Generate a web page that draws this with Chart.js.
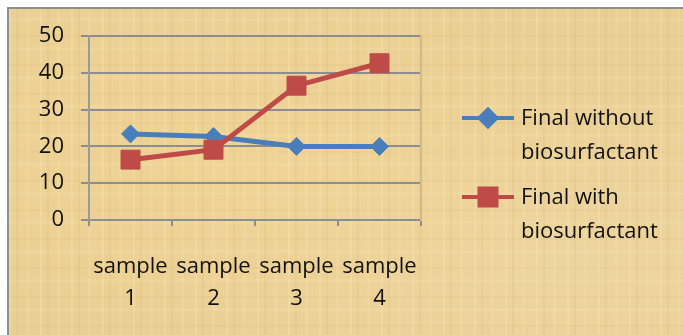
<!DOCTYPE html>
<html>
<head>
<meta charset="utf-8">
<script src="https://cdn.jsdelivr.net/npm/chart.js@4/dist/chart.umd.min.js"></script>
<style>
  html, body { margin: 0; padding: 0; background: #ffffff; }
  #wrap { position: relative; width: 683px; height: 335px; overflow: hidden; }
  #frame {
    position: absolute; left: 7px; top: 7px; width: 700px; height: 360px;
    border-top: 2px solid #8e8e8e; border-left: 2px solid #8e8e8e;
    background-color: #eacf94;
    background-image:
      repeating-linear-gradient(90deg, rgba(255,245,210,0.18) 0 2px, transparent 2px 7px, rgba(170,130,50,0.07) 7px 9px, transparent 9px 17px, rgba(255,240,200,0.12) 17px 20px, transparent 20px 31px),
      repeating-linear-gradient(0deg, rgba(255,245,215,0.10) 0 3px, transparent 3px 13px, rgba(165,125,45,0.05) 13px 15px, transparent 15px 29px),
      radial-gradient(ellipse at 30% 40%, rgba(245,215,150,0.5), transparent 60%),
      radial-gradient(ellipse at 80% 70%, rgba(240,220,170,0.45), transparent 55%);
  }
  canvas { position: absolute; left: 0; top: 0; }
</style>
</head>
<body>
<div id="wrap">
  <div id="frame"></div>
  <canvas id="c" width="683" height="335"></canvas>
</div>
<script>
// Categories and measured values for the two series
const categories = [["sample", "1"], ["sample", "2"], ["sample", "3"], ["sample", "4"]];
const finalWithout = [23.4, 22.7, 20.0, 20.0];
const finalWith = [16.4, 19.1, 36.5, 42.6];
const seriesNames = [["Final without", "biosurfactant"], ["Final with", "biosurfactant"]];
const yMin = 0, yMax = 50, yStep = 10;

const FONT = "'Open Sans', 'DejaVu Sans', sans-serif";
const BLUE = "#4a7ebb";
const RED = "#be4b48";
const GRID = "#8a8d94";

// Legend drawn to the right of the plot, two-line labels
const sideLegend = {
  id: "sideLegend",
  afterDraw(chart) {
    const ctx = chart.ctx;
    const x0 = chart.chartArea.right + 41;
    const lineLen = 52;
    const textX = x0 + 59;
    const rowTop = 118;
    const rowGap = 79;
    chart.data.datasets.forEach((ds, i) => {
      const y = rowTop + i * rowGap;
      ctx.save();
      ctx.strokeStyle = ds.borderColor;
      ctx.lineWidth = 4;
      ctx.beginPath();
      ctx.moveTo(x0, y);
      ctx.lineTo(x0 + lineLen, y);
      ctx.stroke();
      ctx.fillStyle = ds.pointBackgroundColor;
      ctx.strokeStyle = ds.pointBorderColor;
      Chart.helpers.drawPoint(ctx, {
        pointStyle: ds.pointStyle,
        radius: ds.pointStyle === "rect" ? 12 : 8.5,
        rotation: 0,
        borderWidth: 1
      }, x0 + lineLen / 2, y);
      ctx.fillStyle = "#111111";
      ctx.font = "22px " + FONT;
      ctx.textBaseline = "middle";
      ctx.textAlign = "left";
      seriesNames[i].forEach((t, k) => ctx.fillText(t, textX, y + 1 + k * 34));
      ctx.restore();
    });
  }
};

new Chart(document.getElementById("c"), {
  type: "line",
  data: {
    labels: categories,
    datasets: [
      {
        label: seriesNames[0].join(" "),
        data: finalWithout,
        borderColor: BLUE,
        backgroundColor: BLUE,
        pointBackgroundColor: BLUE,
        pointBorderColor: BLUE,
        borderWidth: 5,
        pointStyle: "rectRot",
        pointRadius: 9,
        pointBorderWidth: 1,
        tension: 0,
        order: 1
      },
      {
        label: seriesNames[1].join(" "),
        data: finalWith,
        borderColor: RED,
        backgroundColor: RED,
        pointBackgroundColor: RED,
        pointBorderColor: RED,
        borderWidth: 5,
        pointStyle: "rect",
        pointRadius: 13.4,
        pointBorderWidth: 1,
        tension: 0,
        order: 0
      }
    ]
  },
  options: {
    responsive: false,
    animation: false,
    layout: { padding: { left: 0, top: 36, right: 262, bottom: 0 } },
    plugins: { legend: { display: false }, tooltip: { enabled: false } },
    scales: {
      x: {
        type: "category",
        offset: true,
        afterFit(scale) { scale.height = 115; },
        grid: {
          offset: true,
          drawOnChartArea: false,
          drawTicks: true,
          tickLength: 6,
          color: GRID,
          lineWidth: 2
        },
        border: { display: true, color: GRID, width: 2 },
        ticks: {
          color: "#111111",
          font: { family: FONT, size: 22, lineHeight: 1.45 },
          padding: 25,
          maxRotation: 0,
          autoSkip: false
        }
      },
      y: {
        min: yMin,
        max: yMax,
        afterFit(scale) { scale.width = 89; },
        grid: {
          color: GRID,
          lineWidth: 2,
          drawTicks: true,
          tickLength: 8
        },
        border: { display: true, color: "#9a9a9a", width: 2 },
        ticks: {
          stepSize: yStep,
          color: "#111111",
          font: { family: FONT, size: 22 },
          padding: 17
        }
      },
      yEdge: {
        position: "right",
        min: yMin,
        max: yMax,
        afterFit(scale) { scale.width = 0; },
        grid: { display: false },
        ticks: { display: false },
        border: { display: true, color: "#cdb98e", width: 2 }
      }
    }
  },
  plugins: [sideLegend]
});
</script>
</body>
</html>
